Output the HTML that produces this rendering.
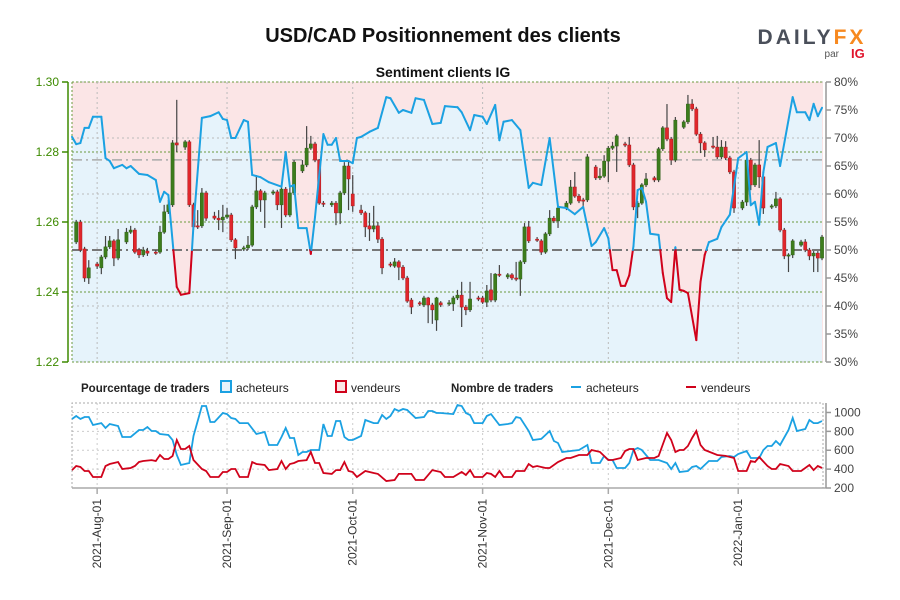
<!DOCTYPE html>
<html><head><meta charset="utf-8"><style>
html,body{margin:0;padding:0;background:#fff;}
svg{display:block;font-family:"Liberation Sans",sans-serif;}
</style></head><body>
<svg id="chart" width="900" height="600" viewBox="0 0 900 600" xmlns="http://www.w3.org/2000/svg">
<text x="443" y="42" text-anchor="middle" font-size="20" font-weight="bold" fill="#111">USD/CAD Positionnement des clients</text>
<g>
<text x="812" y="44" text-anchor="middle" font-size="21" font-weight="bold" letter-spacing="3" fill="#4a4f5a">DAILY<tspan fill="#f7891f">FX</tspan></text>
<text x="839" y="57" text-anchor="end" font-size="10" fill="#555">par</text>
<text x="851" y="58" font-size="13" font-weight="bold" fill="#e0142c">IG</text>
</g>
<text x="443" y="77" text-anchor="middle" font-size="14" font-weight="bold" fill="#111">Sentiment clients IG</text>
<g id="main"></g>
<g id="lower"></g>
<g font-size="12" fill="#222">
<text x="81" y="392" font-weight="bold" font-size="11.5">Pourcentage de traders</text>
<rect x="221" y="381" width="10" height="11" fill="#e6f3fb" stroke="#1ba1e2" stroke-width="2"/>
<text x="236" y="392">acheteurs</text>
<rect x="336" y="381" width="10" height="11" fill="#fbe5e5" stroke="#d0021b" stroke-width="2"/>
<text x="351" y="392">vendeurs</text>
<text x="451" y="392" font-weight="bold" font-size="11.5">Nombre de traders</text>
<line x1="571" y1="387" x2="581" y2="387" stroke="#1ba1e2" stroke-width="2"/>
<text x="586" y="392">acheteurs</text>
<line x1="686" y1="387" x2="696" y2="387" stroke="#d0021b" stroke-width="2"/>
<text x="701" y="392">vendeurs</text>
</g>
</svg>
<script>
// ---- data: days since 2021-07-26 ----
const cDays=[1,2,3,4,6,7,8,9,10,11,13,14,15,16,17,18,20,21,22,23,24,25,27,28,29,30,31,32,34,35,36,37,38,39,41,42,43,44,45,46,48,49,50,51,52,53,55,56,57,58,59,60,62,63,64,65,66,67,69,70,71,72,73,74,76,77,78,79,80,81,83,84,85,86,87,88,90,91,92,93,94,95,97,98,99,100,101,102,104,105,106,107,108,109,111,112,113,114,115,116,118,119,120,121,122,123,125,126,127,128,129,130,132,133,134,135,136,137,139,140,141,142,143,144,146,147,148,149,150,151,153,154,155,156,157,158,160,161,162,163,164,165,167,168,169,170,171,172,174,175,176,177,178,179];
const cOpen=[1.2543,1.2600,1.2523,1.2440,1.2480,1.2469,1.2500,1.2529,1.2546,1.2497,1.2543,1.2571,1.2577,1.2520,1.2506,1.2517,1.2514,1.2514,1.2571,1.2629,1.2649,1.2826,1.2814,1.2829,1.2649,1.2589,1.2589,1.2683,1.2617,1.2611,1.2606,1.2614,1.2620,1.2549,1.2523,1.2526,1.2534,1.2643,1.2689,1.2663,1.2683,1.2686,1.2649,1.2694,1.2620,1.2683,1.2746,1.2763,1.2811,1.2823,1.2777,1.2654,1.2649,1.2654,1.2626,1.2683,1.2760,1.2680,1.2634,1.2626,1.2589,1.2580,1.2589,1.2551,1.2480,1.2474,1.2486,1.2471,1.2440,1.2377,1.2369,1.2363,1.2383,1.2363,1.2320,1.2369,1.2366,1.2366,1.2383,1.2391,1.2357,1.2349,1.2383,1.2383,1.2371,1.2406,1.2377,1.2451,1.2443,1.2449,1.2440,1.2437,1.2486,1.2586,1.2551,1.2546,1.2514,1.2566,1.2611,1.2603,1.2640,1.2654,1.2700,1.2674,1.2663,1.2663,1.2757,1.2726,1.2731,1.2774,1.2811,1.2817,1.2823,1.2820,1.2763,1.2643,1.2654,1.2706,1.2726,1.2720,1.2809,1.2869,1.2837,1.2777,1.2871,1.2886,1.2937,1.2923,1.2851,1.2826,1.2817,1.2814,1.2786,1.2814,1.2783,1.2743,1.2640,1.2657,1.2777,1.2706,1.2763,1.2729,1.2643,1.2646,1.2666,1.2577,1.2503,1.2506,1.2534,1.2543,1.2520,1.2503,1.2511,1.2497];
const cHigh=[1.2606,1.2606,1.2529,1.2491,1.2486,1.2506,1.2560,1.2560,1.2551,1.2580,1.2583,1.2589,1.2583,1.2526,1.2529,1.2526,1.2520,1.2589,1.2649,1.2663,1.2834,1.2949,1.2834,1.2834,1.2655,1.2634,1.2697,1.2689,1.2629,1.2634,1.2649,1.2640,1.2626,1.2554,1.2532,1.2560,1.2649,1.2734,1.2694,1.2689,1.2692,1.2692,1.2700,1.2700,1.2703,1.2777,1.2777,1.2874,1.2846,1.2829,1.2780,1.2660,1.2660,1.2660,1.2689,1.2771,1.2777,1.2734,1.2649,1.2631,1.2626,1.2646,1.2600,1.2557,1.2486,1.2497,1.2491,1.2477,1.2446,1.2383,1.2374,1.2389,1.2386,1.2369,1.2386,1.2374,1.2377,1.2389,1.2406,1.2429,1.2363,1.2429,1.2389,1.2389,1.2420,1.2454,1.2454,1.2477,1.2454,1.2454,1.2486,1.2491,1.2597,1.2603,1.2557,1.2551,1.2571,1.2634,1.2617,1.2646,1.2660,1.2720,1.2743,1.2680,1.2669,1.2794,1.2763,1.2754,1.2791,1.2817,1.2829,1.2851,1.2829,1.2843,1.2769,1.2660,1.2711,1.2740,1.2731,1.2814,1.2874,1.2937,1.2843,1.2900,1.2891,1.2963,1.2951,1.2929,1.2857,1.2831,1.2843,1.2846,1.2834,1.2831,1.2789,1.2749,1.2663,1.2783,1.2783,1.2769,1.2834,1.2734,1.2651,1.2686,1.2671,1.2583,1.2511,1.2551,1.2549,1.2551,1.2526,1.2517,1.2517,1.2563];
const cLow=[1.2537,1.2514,1.2429,1.2423,1.2466,1.2451,1.2494,1.2523,1.2474,1.2491,1.2537,1.2566,1.2509,1.2497,1.2500,1.2503,1.2506,1.2509,1.2566,1.2623,1.2643,1.2800,1.2806,1.2643,1.2577,1.2580,1.2583,1.2603,1.2606,1.2577,1.2571,1.2609,1.2543,1.2494,1.2517,1.2520,1.2529,1.2637,1.2629,1.2583,1.2677,1.2634,1.2583,1.2614,1.2614,1.2677,1.2740,1.2757,1.2806,1.2771,1.2649,1.2643,1.2643,1.2591,1.2594,1.2677,1.2634,1.2629,1.2620,1.2557,1.2546,1.2571,1.2540,1.2451,1.2471,1.2469,1.2434,1.2434,1.2369,1.2337,1.2360,1.2357,1.2311,1.2309,1.2289,1.2357,1.2360,1.2346,1.2377,1.2300,1.2334,1.2343,1.2374,1.2366,1.2357,1.2371,1.2371,1.2443,1.2437,1.2434,1.2431,1.2389,1.2480,1.2540,1.2543,1.2506,1.2509,1.2560,1.2597,1.2583,1.2634,1.2649,1.2669,1.2654,1.2646,1.2657,1.2720,1.2720,1.2726,1.2714,1.2806,1.2743,1.2814,1.2757,1.2634,1.2611,1.2649,1.2700,1.2714,1.2714,1.2803,1.2831,1.2763,1.2771,1.2866,1.2880,1.2917,1.2846,1.2797,1.2786,1.2809,1.2780,1.2780,1.2777,1.2737,1.2626,1.2634,1.2646,1.2691,1.2700,1.2697,1.2623,1.2637,1.2640,1.2571,1.2494,1.2457,1.2497,1.2529,1.2514,1.2491,1.2457,1.2457,1.2491];
const cClose=[1.2600,1.2520,1.2440,1.2469,1.2474,1.2500,1.2529,1.2546,1.2497,1.2549,1.2571,1.2577,1.2514,1.2506,1.2520,1.2511,1.2511,1.2571,1.2629,1.2649,1.2826,1.2820,1.2829,1.2649,1.2586,1.2586,1.2683,1.2611,1.2611,1.2606,1.2614,1.2620,1.2549,1.2526,1.2526,1.2534,1.2643,1.2689,1.2663,1.2683,1.2686,1.2649,1.2694,1.2620,1.2683,1.2771,1.2763,1.2811,1.2823,1.2777,1.2654,1.2651,1.2654,1.2626,1.2683,1.2760,1.2723,1.2646,1.2626,1.2586,1.2580,1.2589,1.2551,1.2469,1.2477,1.2486,1.2471,1.2440,1.2374,1.2357,1.2366,1.2383,1.2363,1.2349,1.2383,1.2363,1.2369,1.2383,1.2391,1.2357,1.2349,1.2380,1.2380,1.2371,1.2403,1.2377,1.2451,1.2449,1.2449,1.2440,1.2437,1.2486,1.2586,1.2546,1.2549,1.2514,1.2566,1.2611,1.2603,1.2640,1.2654,1.2700,1.2674,1.2660,1.2660,1.2786,1.2726,1.2731,1.2774,1.2811,1.2817,1.2846,1.2820,1.2763,1.2643,1.2654,1.2706,1.2723,1.2720,1.2809,1.2869,1.2837,1.2777,1.2891,1.2886,1.2937,1.2923,1.2851,1.2826,1.2806,1.2814,1.2786,1.2814,1.2783,1.2743,1.2640,1.2657,1.2777,1.2706,1.2763,1.2729,1.2640,1.2646,1.2666,1.2577,1.2503,1.2506,1.2546,1.2543,1.2520,1.2503,1.2511,1.2497,1.2557];
const sDays=[0,1,2,3,4,5,7,8,9,10,12,13,14,16,18,20,21,22,23,25,26,28,29,31,33,35,36,37,38,39,41,42,43,45,47,50,51,52,53,54,56,57,58,60,61,62,63,64,66,67,68,69,71,73,75,76,78,79,81,82,84,86,88,89,92,93,95,96,98,99,101,102,103,105,107,109,110,112,114,116,118,120,122,124,125,127,128,129,130,131,132,133,134,135,136,137,138,140,141,142,143,144,145,146,147,149,150,151,152,154,155,157,159,161,162,163,164,165,166,168,169,171,172,173,175,176,177,178,179];
const sLong=[70.2,68.9,69.1,71.8,71.8,73.8,73.8,66.4,65.9,64.6,65.2,64.6,65.0,63.6,63.4,62.5,58.6,60.4,59.8,43.4,42.0,42.3,54.5,73.6,73.9,74.6,73.4,73.2,70.0,70.0,73.2,72.9,63.4,63.0,62.1,61.3,67.5,61.3,61.6,53.9,53.9,49.3,55.9,70.7,68.8,68.8,70.0,65.9,65.9,65.5,70.0,70.2,71.1,71.8,77.3,77.1,74.5,75.0,74.5,77.1,76.8,72.5,72.7,75.7,75.5,74.6,71.4,74.1,73.8,72.5,75.9,69.6,72.9,73.2,71.4,61.1,62.0,61.6,70.0,57.7,57.5,56.4,57.7,50.7,51.4,53.9,52.1,46.4,46.4,43.6,43.6,45.5,50.7,60.7,61.1,58.6,52.9,52.7,45.9,41.4,40.7,50.5,42.9,42.7,42.3,33.9,44.3,49.1,51.4,52.0,54.1,56.3,66.4,67.5,58.0,58.6,54.5,63.9,68.4,69.1,65.0,73.2,77.3,74.6,74.6,73.2,76.1,73.9,75.4];
const bDays=[0,1,2,3,4,5,7,8,9,11,12,14,16,17,18,19,20,21,23,24,25,26,28,29,31,32,33,34,36,37,38,39,40,42,44,46,47,49,50,51,52,53,54,55,56,57,59,60,61,62,63,64,65,66,67,69,70,72,73,74,75,76,77,78,79,80,82,84,85,86,87,88,91,92,93,94,95,96,98,99,100,102,104,105,106,107,109,110,112,114,115,116,117,119,121,123,124,126,127,128,129,130,132,133,134,135,136,138,140,142,143,144,145,147,148,149,150,152,154,155,157,158,159,161,162,164,165,166,167,168,169,171,172,173,175,176,177,178,179];
const bCount=[931,963,931,952,952,867,888,836,878,857,740,740,814,814,846,804,804,772,761,708,550,444,465,751,1069,1069,899,899,994,983,941,931,888,888,772,793,655,655,740,836,730,730,550,581,581,603,603,878,751,751,910,910,740,708,708,751,920,888,888,973,931,963,1037,1016,1037,1026,941,952,1016,1016,994,994,983,1079,1069,994,973,888,888,963,983,867,878,888,952,941,804,708,720,804,698,677,581,592,603,655,465,465,539,497,497,412,412,465,603,624,603,497,497,465,401,465,370,380,422,433,401,486,486,528,539,528,560,592,518,518,603,645,645,698,655,814,941,804,825,920,888,888,910];
const rDays=[0,1,2,3,4,5,7,8,9,11,12,14,15,16,17,19,20,21,22,23,24,25,26,27,28,29,31,32,33,35,36,37,38,39,40,42,43,44,46,47,49,50,51,52,53,54,56,57,58,59,60,62,63,64,65,66,67,68,70,72,73,75,77,78,81,82,84,86,88,89,91,93,94,95,96,98,99,100,101,102,103,105,106,108,109,110,111,113,114,116,118,119,121,123,124,126,128,129,131,132,133,134,135,137,139,140,142,143,144,145,146,147,148,149,150,151,154,156,158,159,161,162,163,164,166,167,168,169,171,172,174,176,177,178,179];
const rCount=[390,433,422,380,380,317,317,433,454,475,401,412,433,475,486,496,486,550,507,507,539,708,613,613,645,497,401,380,317,317,370,370,401,401,317,317,475,454,444,390,401,486,401,454,465,486,496,581,465,465,359,349,390,390,475,380,370,317,380,359,349,274,285,349,349,285,285,390,370,317,317,370,338,390,317,317,359,349,317,380,317,317,380,380,454,422,433,412,412,475,518,518,550,550,603,582,497,497,518,592,613,613,497,518,518,539,783,708,581,603,603,645,730,804,655,603,550,540,518,380,380,486,475,528,433,401,401,454,433,380,380,444,390,433,412];
const priceTicks=[1.22,1.24,1.26,1.28,1.30];
const pctTicks=[30,35,40,45,50,55,60,65,70,75,80];
const countTicks=[200,400,600,800,1000];
const monthLabels=["2021-Aug-01","2021-Sep-01","2021-Oct-01","2021-Nov-01","2021-Dec-01","2022-Jan-01"];
const monthDays=[6,37,67,98,128,159];
const refLevels=[66.1,50];

const NS="http://www.w3.org/2000/svg";
const X0=72,X1=823,PX=4.19;
const xd=d=>X0+d*PX;
const yp=p=>82+(1.30-p)*3500;
const ypct=v=>362-(v-30)*5.6;
const yc=v=>488-(v-200)*0.0944;
function el(tag,attrs,parent){const e=document.createElementNS(NS,tag);for(const k in attrs)e.setAttribute(k,attrs[k]);parent.appendChild(e);return e;}
const main=document.getElementById('main'),lower=document.getElementById('lower');

// main background
let bg=el('rect',{x:X0,y:82,width:X1-X0,height:280,fill:'#fbe5e6'},main);


let pts=sDays.map((d,i)=>xd(d).toFixed(1)+','+ypct(sLong[i]).toFixed(1));
let fill=el('polygon',{points:xd(sDays[0])+',362 '+pts.join(' ')+' '+xd(sDays[sDays.length-1])+',362',fill:'#e6f3fb'},main);


// grids
pctTicks.forEach(v=>{if(v%10===0&&v!==50){let g=el('line',{x1:X0,x2:X1,y1:ypct(v),y2:ypct(v),stroke:'#bbb','stroke-dasharray':'2,3'},main);

}});
priceTicks.forEach(v=>{let g=el('line',{x1:X0,x2:X1,y1:yp(v),y2:yp(v),stroke:'#6b9a3c','stroke-dasharray':'2,2'},main);

});
monthDays.forEach(d=>{let g=el('line',{x1:xd(d),x2:xd(d),y1:82,y2:362,stroke:'#bbb','stroke-dasharray':'2,3'},main);

});
let lb=el('line',{x1:X0,x2:X0,y1:82,y2:362,stroke:'#6b9a3c','stroke-dasharray':'2,2'},main);


refLevels.forEach((v,i)=>{let r=el('line',{x1:X0,x2:X1,y1:ypct(v),y2:ypct(v),stroke:i?'#777':'#aaa','stroke-width':i?2:1.5,'stroke-dasharray':'10,4,2,4'},main);

});
// candles
cDays.forEach((d,i)=>{const x=xd(d),o=cOpen[i],c=cClose[i],up=c>=o;
 let g=el('g',{},main);
 
 
 el('line',{x1:x,x2:x,y1:yp(cHigh[i]),y2:yp(cLow[i]),stroke:'#444','stroke-width':1.2},g);
 const t=yp(Math.max(o,c)),b=yp(Math.min(o,c));
 el('rect',{x:x-1.6,y:t,width:3.2,height:Math.max(b-t,1.2),fill:up?'#3d7d1c':'#e1262b',stroke:up?'#2f5f18':'#a81a1e','stroke-width':0.5},g);
});
// sentiment line split at 50
for(let i=0;i<sDays.length-1;i++){
 const x1=xd(sDays[i]),x2=xd(sDays[i+1]),v1=sLong[i],v2=sLong[i+1];
 const segs=[];
 if((v1-50)*(v2-50)<0){const t=(50-v1)/(v2-v1),xm=x1+t*(x2-x1);segs.push([x1,v1,xm,50,v1>=50]);segs.push([xm,50,x2,v2,v2>=50]);}
 else segs.push([x1,v1,x2,v2,(v1+v2)/2>=50]);
 segs.forEach(s=>{let l=el('line',{x1:s[0],y1:ypct(s[1]),x2:s[2],y2:ypct(s[3]),stroke:s[4]?'#1ba1e2':'#d0021b','stroke-width':2,'stroke-linecap':'round'},main);
 
 });
}
// left axis
let la=el('line',{x1:68,x2:68,y1:82,y2:362,stroke:'#3d8a00','stroke-width':1.5},main);


priceTicks.forEach(v=>{el('line',{x1:62,x2:68,y1:yp(v),y2:yp(v),stroke:'#3d8a00','stroke-width':1.5},main);
 let t=el('text',{x:59,y:yp(v)+4,'text-anchor':'end','font-size':12,fill:'#3d8a00'},main);t.textContent=v.toFixed(2);
 
 });
// right axis
let ra=el('line',{x1:826,x2:826,y1:82,y2:362,stroke:'#999','stroke-width':1.5},main);


pctTicks.forEach(v=>{el('line',{x1:826,x2:831,y1:ypct(v),y2:ypct(v),stroke:'#999','stroke-width':1.5},main);
 let t=el('text',{x:834,y:ypct(v)+4,'font-size':12,fill:'#444'},main);t.textContent=v+'%';
 
 });

// lower panel
countTicks.forEach(v=>{if(v>200){let g=el('line',{x1:X0,x2:X1,y1:yc(v),y2:yc(v),stroke:'#ccc','stroke-dasharray':'2,3'},lower);
 
 }});
monthDays.forEach(d=>{let g=el('line',{x1:xd(d),x2:xd(d),y1:403,y2:488,stroke:'#ccc','stroke-dasharray':'2,3'},lower);
 
 });
let tb=el('path',{d:'M72,488 L72,403 L823,403 L823,488',fill:'none',stroke:'#aaa','stroke-dasharray':'2,2'},lower);


let ba=el('line',{x1:X0,x2:826,y1:488,y2:488,stroke:'#aaa','stroke-width':1.5},lower);


let bl=el('polyline',{points:bDays.map((d,i)=>xd(d).toFixed(1)+','+yc(bCount[i]).toFixed(1)).join(' '),fill:'none',stroke:'#1ba1e2','stroke-width':1.8},lower);


let rl=el('polyline',{points:rDays.map((d,i)=>xd(d).toFixed(1)+','+yc(rCount[i]).toFixed(1)).join(' '),fill:'none',stroke:'#d0021b','stroke-width':1.8},lower);


let ca=el('line',{x1:826,x2:826,y1:403,y2:488,stroke:'#999','stroke-width':1.5},lower);


countTicks.forEach(v=>{el('line',{x1:826,x2:831,y1:yc(v),y2:yc(v),stroke:'#999','stroke-width':1.5},lower);
 let t=el('text',{x:834,y:yc(v)+4,'font-size':12,fill:'#444'},lower);t.textContent=v;
 
 });
monthDays.forEach((d,i)=>{const x=xd(d);el('line',{x1:x,x2:x,y1:488,y2:494,stroke:'#aaa','stroke-width':1.5},lower);
 let t=el('text',{x:0,y:0,'font-size':12,fill:'#333','text-anchor':'end',transform:'translate('+(x+4)+',499) rotate(-90)'},lower);t.textContent=monthLabels[i];
 
 });
</script>
</body></html>
